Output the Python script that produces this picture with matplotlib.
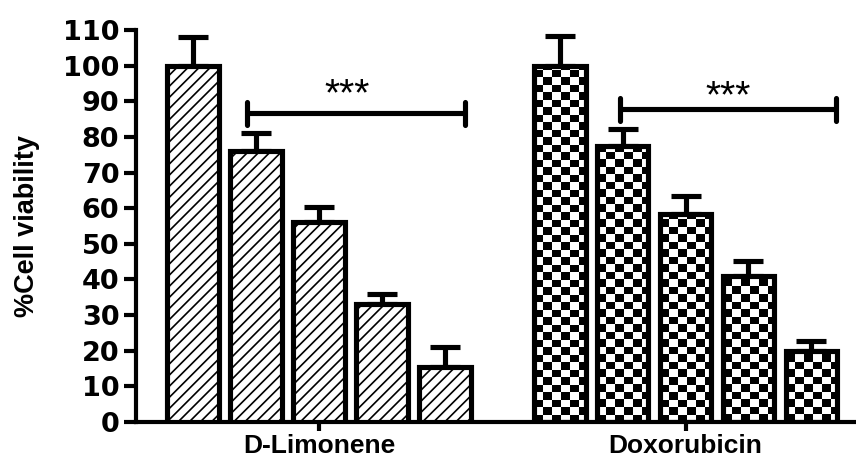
import numpy as np
import matplotlib
matplotlib.use("Agg")
import matplotlib.pyplot as plt

# ---- data -------------------------------------------------------------
groups = ["D-Limonene", "Doxorubicin"]
limonene = [100, 76, 56, 33, 15.5]
limonene_err = [8, 5, 4.4, 2.8, 5.5]
doxorubicin = [100, 77.5, 58.5, 41, 20]
doxorubicin_err = [8.4, 4.6, 5.0, 4.3, 2.8]
yticks = list(range(0, 111, 10))
sig_text = "***"

# significance brackets: (x start, x end, height) in axis units
brackets = [(-1.15, 2.32, 86.6), (4.79, 8.22, 87.7)]
star_pos = [(0.44, 91.6), (6.50, 91.2)]

# ---- layout -----------------------------------------------------------
group_centers = [0.0, 5.83]
bar_width = 0.82
lw = 3.7

plt.rcParams["hatch.linewidth"] = 1.2

fig = plt.figure(figsize=(8.56, 4.62), dpi=100)
ax = fig.add_axes([136 / 856, 40 / 462, 1 - 136 / 856, 392 / 462])


def positions(center, n):
    return [center + (i - (n - 1) / 2) for i in range(n)]


x_lim = positions(group_centers[0], len(limonene))
x_dox = positions(group_centers[1], len(doxorubicin))

# error bars (upper only), drawn beneath the bars
ax.errorbar(x_lim, limonene, yerr=[np.zeros(len(limonene)), limonene_err],
            fmt="none", ecolor="black", elinewidth=lw, capsize=10.5,
            capthick=lw, zorder=1)
ax.errorbar(x_dox, doxorubicin, yerr=[np.zeros(len(doxorubicin)), doxorubicin_err],
            fmt="none", ecolor="black", elinewidth=lw, capsize=10.5,
            capthick=lw, zorder=1)

# D-Limonene: diagonal hatched bars
ax.bar(x_lim, limonene, width=bar_width, facecolor="white", edgecolor="black",
       linewidth=lw, hatch="///", zorder=3)

# Doxorubicin: checkerboard filled bars
dox_bars = ax.bar(x_dox, doxorubicin, width=bar_width, facecolor="none",
                  edgecolor="black", linewidth=lw, zorder=3)
cell_w, cell_h = 0.143, 2.1
for patch in dox_bars.patches:
    x0, y0 = patch.get_x(), patch.get_y()
    w, h = patch.get_width(), patch.get_height()
    nx = int(np.ceil(w / cell_w)) + 1
    ny = int(np.ceil(h / cell_h)) + 1
    ii, jj = np.meshgrid(np.arange(nx), np.arange(ny))
    board = ((ii + jj) % 2).astype(float)
    im = ax.imshow(board, cmap="gray", vmin=0, vmax=1, origin="lower",
                   interpolation="nearest", aspect="auto",
                   extent=[x0, x0 + nx * cell_w, y0, y0 + ny * cell_h],
                   zorder=2)
    im.set_clip_path(patch)

# significance brackets
for (bx0, bx1, by), (sx, sy) in zip(brackets, star_pos):
    ax.plot([bx0, bx1], [by, by], color="black", lw=lw,
            solid_capstyle="butt", zorder=4)
    for bx in (bx0, bx1):
        ax.plot([bx, bx], [by - 3.2, by + 3.2], color="black", lw=lw,
                solid_capstyle="round", zorder=4)
    ax.text(sx, sy, sig_text, ha="center", va="center", fontsize=28,
            family="Liberation Sans", zorder=4)

# ---- axes styling -----------------------------------------------------
ax.set_xlim(-2.91, 8.54)
ax.set_ylim(0, 110)
ax.set_yticks(yticks)
ax.set_yticklabels([str(t) for t in yticks], family="DejaVu Sans",
                   fontweight="bold", fontsize=19.5)
ax.set_xticks(group_centers)
ax.set_xticklabels(groups, family="Liberation Sans", fontweight="bold",
                   fontsize=19)

for side in ("top", "right"):
    ax.spines[side].set_visible(False)
for side in ("left", "bottom"):
    ax.spines[side].set_linewidth(3.0)

ax.tick_params(axis="y", length=9, width=3.0, pad=3, direction="out")
ax.tick_params(axis="x", length=6.5, width=3.0, pad=2, direction="out")

fig.text(27 / 856, 1 - 226 / 462, "%Cell viability", rotation=90,
         ha="center", va="center", fontsize=19.5, family="Liberation Sans",
         fontweight="bold")

fig.savefig("out.png", dpi=100)
